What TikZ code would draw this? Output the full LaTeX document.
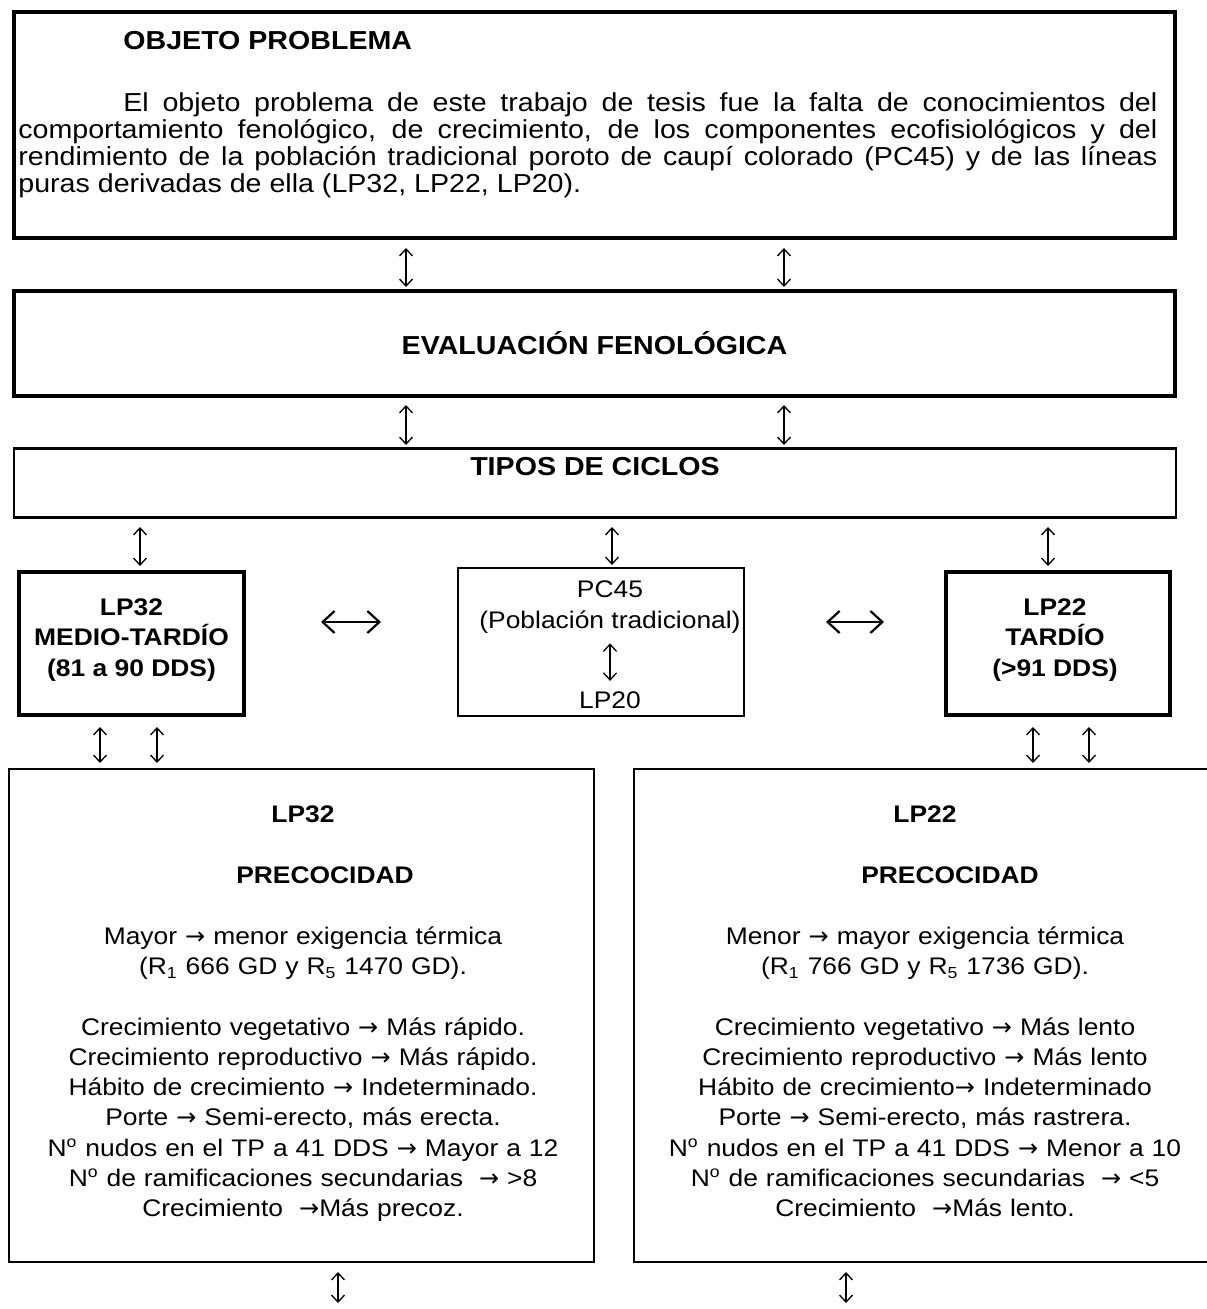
\documentclass[tikz,border=0pt]{standalone}
\usepackage{fontspec}
\setmainfont{Liberation Sans}[FakeStretch=1.1]
\newfontfamily\arrowfont{DejaVu Sans}
\newcommand{\rarr}{{\arrowfont →}}
\usetikzlibrary{arrows.meta,positioning}

\begin{document}
\begin{tikzpicture}[x=0.5pt,y=-0.5pt,
  box/.style={draw,inner sep=0pt,outer sep=0pt},
  heavy/.style={box,line width=2pt},
  mid/.style={box,line width=1.4pt},
  light/.style={box,line width=1pt},
  txt/.style={inner sep=0pt,font=\fontsize{12}{15.15}\selectfont},
  bigtxt/.style={inner sep=0pt,font=\fontsize{13}{13.35}\selectfont},
  varr/.style={{Straight Barb[length=3.5pt,width=6.5pt]}-{Straight Barb[length=3.5pt,width=6.5pt]},line width=0.65pt},
  harr/.style={{Straight Barb[length=6pt,width=11pt]}-{Straight Barb[length=6pt,width=11pt]},line width=1.1pt}]
  \useasboundingbox (0,0) rectangle (1206,1309);

  \node[heavy,minimum width=580.5pt,minimum height=113pt] (obj) at (594.5,125){};
  \node[bigtxt,font=\fontsize{13}{13.35}\selectfont\bfseries,anchor=base west] (objtit) at (123,50){OBJETO PROBLEMA};
  \node[bigtxt,anchor=base west,text width=569.5pt,align=justify] (objtxt) at (18,112){\hspace*{52.5pt}El objeto problema de este trabajo de tesis fue la falta de conocimientos del\linebreak
    comportamiento fenológico, de crecimiento, de los componentes ecofisiológicos y del\linebreak
    rendimiento de la población tradicional poroto de caupí colorado (PC45) y de las líneas\linebreak
    puras derivadas de ella (LP32, LP22, LP20).};

  \node[heavy,minimum width=580.5pt,minimum height=52.5pt,font=\fontsize{13}{15}\selectfont\bfseries] (eval) at (594.5,343.5){EVALUACIÓN FENOLÓGICA};

  \node[mid,minimum width=581pt,minimum height=34.6pt] (tipos) at (595,483){};
  \node[bigtxt,font=\fontsize{13}{15}\selectfont\bfseries,anchor=base] (tipostxt) at (595,475){TIPOS DE CICLOS};

  \node[heavy,minimum width=112.5pt,minimum height=71.5pt] (lp32) at (131.5,643.5){};
  \node[txt,font=\fontsize{12}{15.25}\selectfont\bfseries,align=center,anchor=north] (lp32txt) at (131.5,598){LP32\\MEDIO-TARDÍO\\(81 a 90 DDS)};

  \node[light,minimum width=143pt,minimum height=74pt] (pc45) at (601,642){};
  \node[txt,anchor=base] (pctxt) at (610,597){PC45};
  \node[txt,anchor=base] (pobtxt) at (610,628){(Población tradicional)};
  \node[txt,anchor=base] (lp20txt) at (610,708){LP20};

  \node[heavy,minimum width=112pt,minimum height=71.5pt] (lp22) at (1058,643.5){};
  \node[txt,font=\fontsize{12}{15.25}\selectfont\bfseries,align=center,anchor=north] (lp22txt) at (1055,598){LP22\\TARDÍO\\(>91 DDS)};

  \node[light,minimum width=292.5pt,minimum height=246.5pt] (prec32) at (301.5,1015.5){};
  \node[txt,anchor=north,text width=290pt,align=center] (prec32txt) at (303,805.8){\textbf{LP32}\\[15.15pt]
    \hspace*{22pt}\textbf{PRECOCIDAD}\\[15.15pt]
    Mayor \rarr{} menor exigencia térmica\\
    (R\textsubscript{1} 666 GD y R\textsubscript{5} 1470 GD).\\[15.15pt]
    Crecimiento vegetativo \rarr{} Más rápido.\\
    Crecimiento reproductivo \rarr{} Más rápido.\\
    Hábito de crecimiento \rarr{} Indeterminado.\\
    Porte \rarr{} Semi-erecto, más erecta.\\
    N\textsuperscript{o} nudos en el TP a 41 DDS \rarr{} Mayor a 12\\
    N\textsuperscript{o} de ramificaciones secundarias\ \ \rarr{} >8\\
    Crecimiento\ \ \rarr Más precoz.};

  \node[light,minimum width=292.5pt,minimum height=246.5pt] (prec22) at (926.5,1015.5){};
  \node[txt,anchor=north,text width=290pt,align=center] (prec22txt) at (925,805.8){\textbf{LP22}\\[15.15pt]
    \hspace*{25pt}\textbf{PRECOCIDAD}\\[15.15pt]
    Menor \rarr{} mayor exigencia térmica\\
    (R\textsubscript{1} 766 GD y R\textsubscript{5} 1736 GD).\\[15.15pt]
    Crecimiento vegetativo \rarr{} Más lento\\
    Crecimiento reproductivo \rarr{} Más lento\\
    Hábito de crecimiento\rarr{} Indeterminado\\
    Porte \rarr{} Semi-erecto, más rastrera.\\
    N\textsuperscript{o} nudos en el TP a 41 DDS \rarr{} Menor a 10\\
    N\textsuperscript{o} de ramificaciones secundarias\ \ \rarr{} <5\\
    Crecimiento\ \ \rarr Más lento.};

  \coordinate (hrow) at (0,622);
  \coordinate (out32) at (338,1303);
  \coordinate (out22) at (846,1303);

  \foreach \x in {406,784}{
    \draw[varr,shorten <=5pt,shorten >=2pt] (obj.south -| \x,0) -- (eval.north -| \x,0);
    \draw[varr,shorten <=4.5pt,shorten >=1.7pt] (eval.south -| \x,0) -- (tipos.north -| \x,0);
  }
  \foreach \n/\x/\s in {lp32/140/3pt,pc45/612/1.5pt,lp22/1048/3pt}
    \draw[varr,shorten <=4.7pt,shorten >=\s] (tipos.south -| \x,0) -- (\n.north -| \x,0);
  \foreach \x in {100,157}
    \draw[varr,shorten <=6pt,shorten >=3pt] (lp32.south -| \x,0) -- (prec32.north -| \x,0);
  \foreach \x in {1033,1089}
    \draw[varr,shorten <=6pt,shorten >=3pt] (lp22.south -| \x,0) -- (prec22.north -| \x,0);
  \draw[varr,shorten <=5pt,shorten >=5pt] (pobtxt) -- (lp20txt);
  \draw[harr,shorten <=38.5pt,shorten >=38.5pt] (lp32.east |- hrow) -- (pc45.west |- hrow);
  \draw[harr,shorten <=41pt,shorten >=31pt] (pc45.east |- hrow) -- (lp22.west |- hrow);
  \draw[varr,shorten <=5pt] (prec32.south -| out32) -- (out32);
  \draw[varr,shorten <=5pt] (prec22.south -| out22) -- (out22);
\end{tikzpicture}
\end{document}
